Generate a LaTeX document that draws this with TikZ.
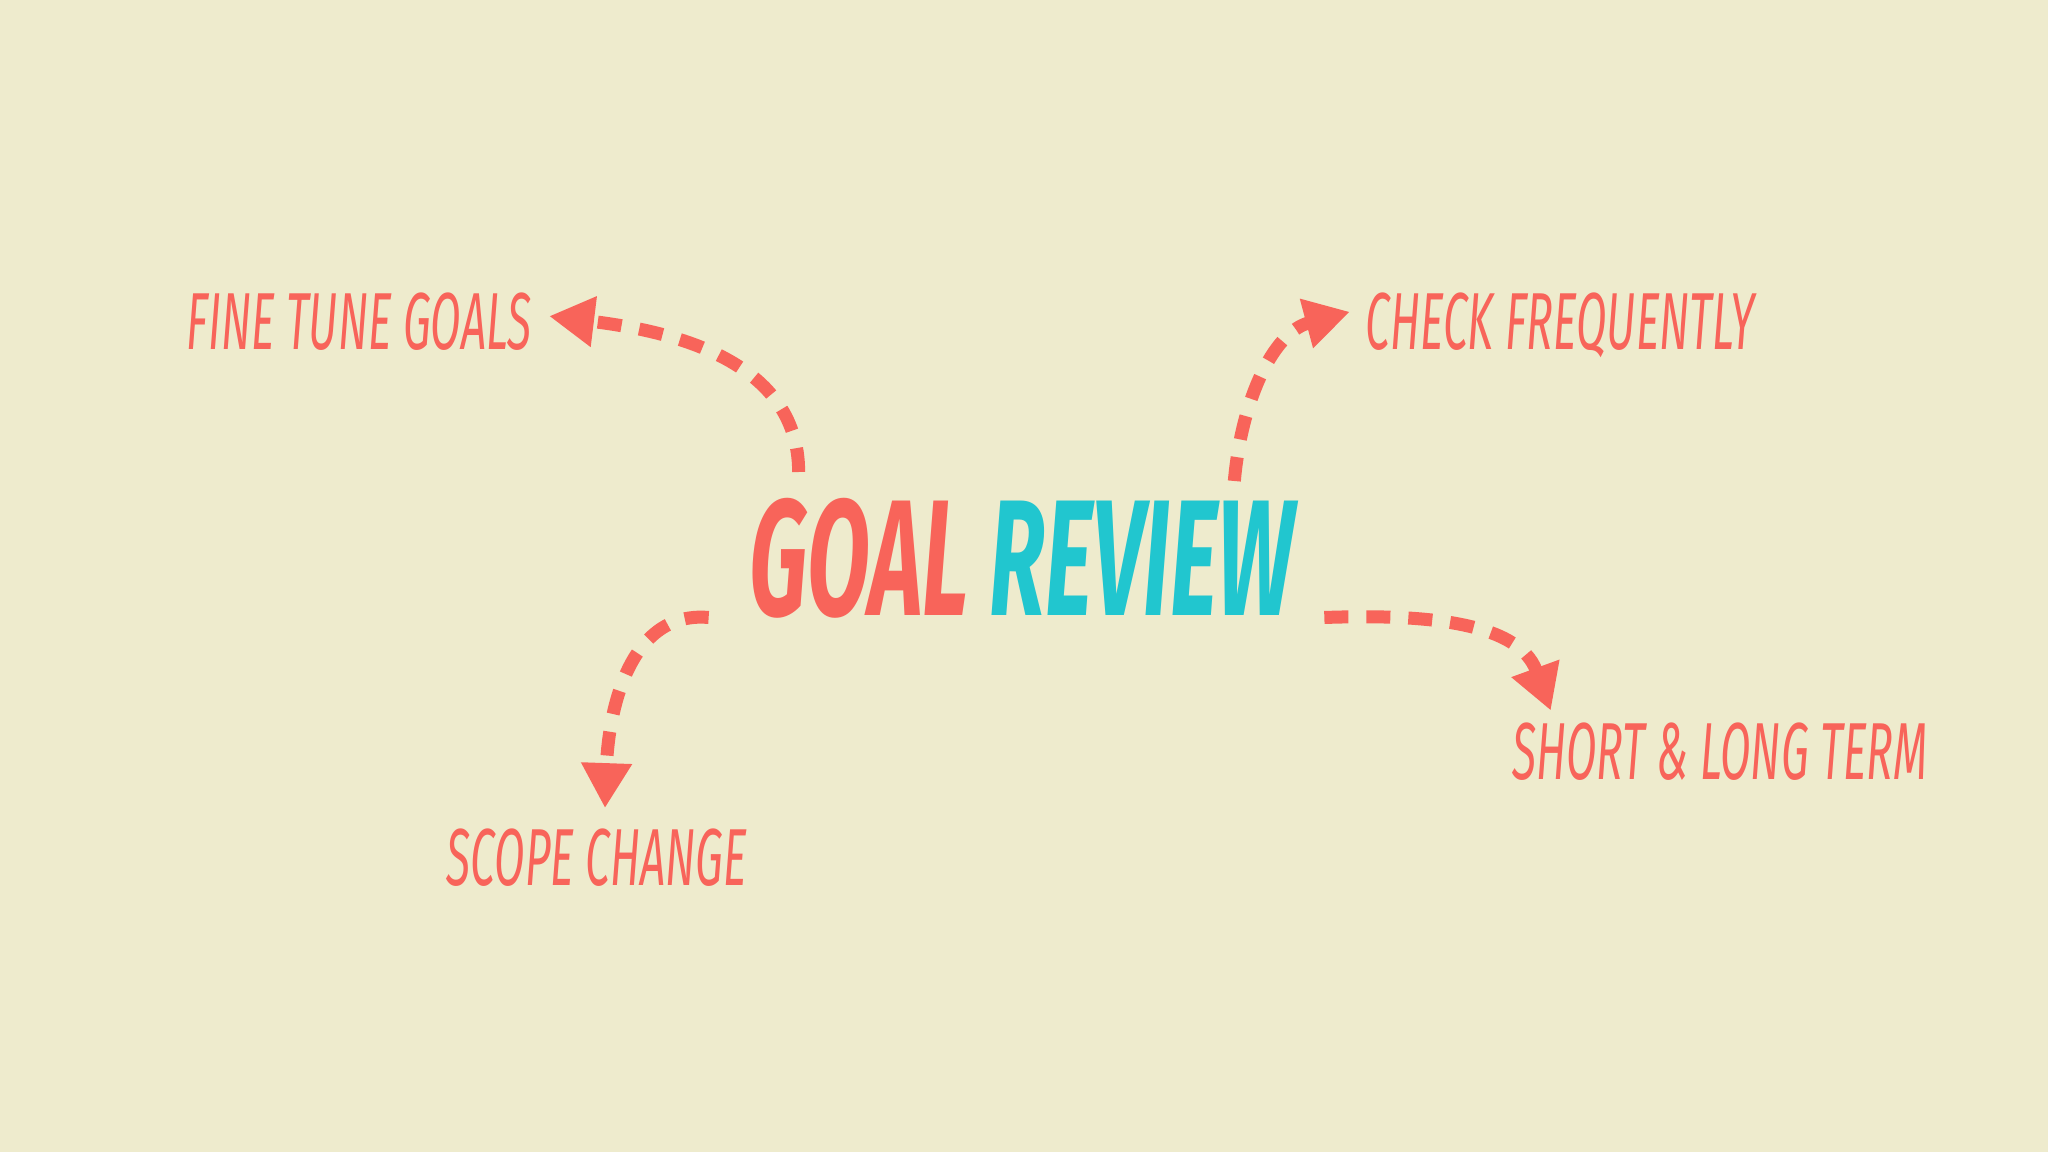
\documentclass[tikz,border=0pt]{standalone}
\usepackage{fontspec}
\newfontfamily\headfont[FakeStretch=0.555]{Fira Sans}
\newfontfamily\labelfont[FakeStretch=0.55]{Fira Sans}
\usepackage{tikz}
\usetikzlibrary{arrows.meta}
\definecolor{coral}{HTML}{F8645A}
\definecolor{reviewcyan}{HTML}{21C6CF}
\definecolor{paper}{HTML}{EEEBCD}
\tikzset{
	goal/.style={text=coral, anchor=base, inner sep=0pt, font=\labelfont\itshape\fontsize{23}{23}\selectfont},
	dasharrow/.style={draw=coral, line width=0.13cm, dash pattern=on 0.24cm off 0.18cm, -{Triangle[length=0.45cm,width=0.48cm]}}
}

\begin{document}
\begin{tikzpicture}
		\fill[paper] (0,0) rectangle (20.48,11.52);
		\useasboundingbox (0,0) rectangle (20.48,11.52);
		
		% title
		\node[anchor=base, inner sep=0pt, font=\headfont\bfseries\itshape\fontsize{47}{47}\selectfont] (review) at (10.22,5.36) {\textcolor{coral}{GOAL} \textcolor{reviewcyan}{REVIEW}};
		
		% labels
		\node[goal] (fine) at (3.59,8.02) {FINE TUNE GOALS};
		\node[goal] (check) at (15.6,8.02) {CHECK FREQUENTLY};
		\node[goal] (short) at (17.2,3.72) {SHORT \& LONG TERM};
		\node[goal] (scope) at (5.97,2.665) {SCOPE CHANGE};
		
		% arrows
		\draw[dasharrow] ([xshift=0.5cm,yshift=0.26cm]review.north west) to[out=90, in=-7] ([xshift=0.17cm,yshift=0.06cm]fine.east);
		\draw[dasharrow] ([xshift=-0.61cm,yshift=0.17cm]review.north east) to[out=85, in=-165] ([xshift=-0.15cm,yshift=0.14cm]check.west);
		\draw[dasharrow] ([xshift=-0.4cm,yshift=0.02cm]review.south west) to[out=175, in=88] ([xshift=0.08cm,yshift=0.2cm]scope.north);
		\draw[dasharrow] ([xshift=0.29cm,yshift=0.02cm]review.south east) to[out=2, in=110] ([xshift=0.39cm,yshift=0.12cm]short.north west);
		
\end{tikzpicture}
\end{document}
